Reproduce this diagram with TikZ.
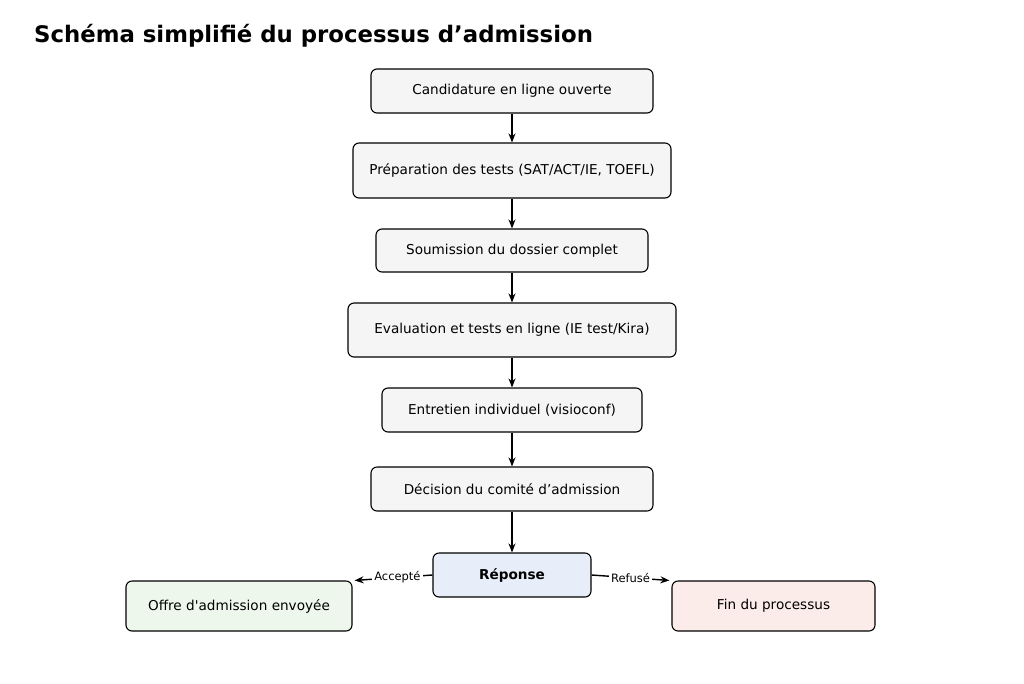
\documentclass[tikz,border=0pt]{standalone}
\usepackage{fontspec}
\setmainfont{DejaVu Sans}
\newfontfamily\nomap{DejaVu Sans}
\usetikzlibrary{arrows.meta}
\begin{document}
\begin{tikzpicture}[x=1pt,y=-1pt,
  box/.style={draw=black,line width=1.1pt,rounded corners=6pt,fill=#1,font=\fontsize{13.6}{16}\selectfont,inner sep=0pt},
  box/.default={gray!8},
  arr/.style={-{Stealth[length=9pt,width=7pt]},line width=1.4pt},
  lab/.style={font=\fontsize{11.5}{13}\selectfont,fill=white,inner sep=2pt}]
\useasboundingbox (0,0) rectangle (1024,683);
\node[anchor=west,inner sep=0pt,font=\bfseries\fontsize{22.8}{26}\selectfont] (t) at (34,36) {Schéma simplifié du processus d’admission};
\node[box,minimum width=282pt,minimum height=44pt] (a) at (512,91) {Candidature en ligne ouverte};
\node[box,minimum width=318pt,minimum height=55pt] (b) at (512,170.5) {Préparation des tests (SAT/ACT/IE, TOEFL)};
\node[box,minimum width=272pt,minimum height=43pt] (c) at (512,250.5) {Soumission du dossier complet};
\node[box,minimum width=328pt,minimum height=54pt] (d) at (512,330) {Evaluation et tests en ligne (IE test/Kira)};
\node[box,minimum width=260pt,minimum height=44pt] (e) at (512,410) {Entretien individuel (visioconf)};
\node[box,minimum width=282pt,minimum height=44pt] (f) at (512,489) {Décision du comité d’admission};
\node[box,fill={rgb,255:red,232;green,238;blue,249},minimum width=158pt,minimum height=44pt,font=\bfseries\fontsize{13.6}{16}\selectfont] (r) at (512,575) {Réponse};
\node[box,fill={rgb,255:red,238;green,247;blue,236},minimum width=226pt,minimum height=50pt] (o) at (239,606) {\nomap Offre d'admission envoyée};
\node[box,fill={rgb,255:red,251;green,236;blue,234},minimum width=203pt,minimum height=50pt] (n) at (773.5,606) {Fin du processus};
\draw[arr] (a) -- (b);
\draw[arr] (b) -- (c);
\draw[arr] (c) -- (d);
\draw[arr] (d) -- (e);
\draw[arr] (e) -- (f);
\draw[arr] (f) -- (r);
\draw[arr] (r.west) -- node[lab,pos=0.45]{Accepté} ([xshift=2pt]o.north east);
\draw[arr] (r.east) -- node[lab,pos=0.5]{Refusé} ([xshift=-2pt]n.north west);
\end{tikzpicture}
\end{document}
